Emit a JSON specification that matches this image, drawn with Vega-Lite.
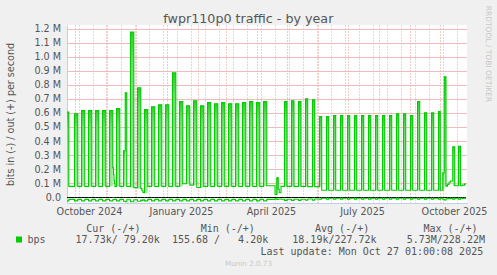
{
  "$schema": "https://vega.github.io/schema/vega-lite/v6.json",
  "width": 400,
  "height": 178,
  "autosize": {"type": "none"},
  "padding": {"left": 67, "top": 25, "right": 30, "bottom": 72},
  "background": "#f0f0f0",
  "title": {"text": "fwpr110p0 traffic - by year", "anchor": "middle", "frame": "bounds", "font": "DejaVu Sans", "fontSize": 12.7, "fontWeight": "normal", "color": "#555555", "baseline": "alphabetic", "offset": -30.6},
  "config": {
    "view": {"fill": "#ffffff", "stroke": null},
    "axis": {"labelFont": "DejaVu Sans", "labelFontSize": 9.6, "labelColor": "#555555", "titleFont": "DejaVu Sans", "titleFontWeight": "normal", "titleColor": "#555555", "ticks": false, "domain": false, "labels": false, "grid": false}
  },
  "datasets": {
    "gridlines": [{"v":100000},{"v":200000},{"v":300000},{"v":400000},{"v":500000},{"v":600000},{"v":700000},{"v":800000},{"v":900000},{"v":1000000},{"v":1100000},{"v":1200000}],
    "traffic": [
    {"t":"2024-09-23T00:00","o":607000,"n":-28000,"e":"2024-09-24T20:00","b":76000},{"t":"2024-09-24T20:00","o":76000,"n":-17000},
    {"t":"2024-09-30T12:00","o":595000,"n":-28000,"e":"2024-10-03T19:00","b":76000},{"t":"2024-10-03T19:00","o":76000,"n":-17000},
    {"t":"2024-10-07T12:00","o":617000,"n":-28000,"e":"2024-10-10T19:00","b":76000},{"t":"2024-10-10T19:00","o":76000,"n":-17000},
    {"t":"2024-10-14T12:00","o":617000,"n":-28000,"e":"2024-10-17T19:00","b":76000},{"t":"2024-10-17T19:00","o":76000,"n":-17000},
    {"t":"2024-10-21T12:00","o":617000,"n":-28000,"e":"2024-10-24T19:00","b":76000},{"t":"2024-10-24T19:00","o":76000,"n":-17000},
    {"t":"2024-10-28T12:00","o":617000,"n":-28000,"e":"2024-10-31T19:00","b":76000},{"t":"2024-10-31T19:00","o":76000,"n":-17000},
    {"t":"2024-11-04T12:00","o":617000,"n":-28000,"e":"2024-11-07T19:00","b":76000},
    {"t":"2024-11-07T19:00","o":210000,"n":-20000},{"t":"2024-11-08T12:00","o":160000,"n":-18000},{"t":"2024-11-09T00:00","o":120000,"n":-17000},{"t":"2024-11-09T12:00","o":95000,"n":-17000},{"t":"2024-11-10T00:00","o":76000,"n":-17000},
    {"t":"2024-11-11T12:00","o":631000,"n":-28000,"e":"2024-11-14T19:00","b":76000},{"t":"2024-11-14T19:00","o":76000,"n":-17000},
    {"t":"2024-11-18T12:00","o":330000,"n":-30000,"e":"2024-11-20T06:00","b":76000},
    {"t":"2024-11-20T06:00","o":745000,"n":-34000,"e":"2024-11-21T19:00","b":76000},{"t":"2024-11-21T19:00","o":76000,"n":-20000},
    {"t":"2024-11-25T12:00","o":1178000,"n":-34000,"e":"2024-11-28T19:00","b":67000},{"t":"2024-11-28T19:00","o":67000,"n":-20000},
    {"t":"2024-12-02T12:00","o":780000,"n":-30000,"e":"2024-12-05T19:00","b":60000},
    {"t":"2024-12-05T19:00","o":60000,"n":-22000},{"t":"2024-12-07T00:00","o":45000,"n":-25000},{"t":"2024-12-08T00:00","o":30000,"n":-20000},
    {"t":"2024-12-09T12:00","o":624000,"n":-28000,"e":"2024-12-12T19:00","b":30000},{"t":"2024-12-12T19:00","o":76000,"n":-17000},
    {"t":"2024-12-16T12:00","o":645000,"n":-28000,"e":"2024-12-19T19:00","b":76000},{"t":"2024-12-19T19:00","o":76000,"n":-17000},
    {"t":"2024-12-23T12:00","o":659000,"n":-28000,"e":"2024-12-26T19:00","b":76000},{"t":"2024-12-26T19:00","o":76000,"n":-17000},
    {"t":"2024-12-30T12:00","o":659000,"n":-28000,"e":"2025-01-02T19:00","b":76000},{"t":"2025-01-02T19:00","o":76000,"n":-17000},
    {"t":"2025-01-06T12:00","o":887000,"n":-28000,"e":"2025-01-09T19:00","b":76000},{"t":"2025-01-09T19:00","o":76000,"n":-17000},
    {"t":"2025-01-13T12:00","o":681000,"n":-28000,"e":"2025-01-16T19:00","b":76000},{"t":"2025-01-16T19:00","o":95000,"n":-17000},
    {"t":"2025-01-20T12:00","o":652000,"n":-28000,"e":"2025-01-23T19:00","b":95000},{"t":"2025-01-23T19:00","o":85000,"n":-17000},
    {"t":"2025-01-27T12:00","o":688000,"n":-28000,"e":"2025-01-30T19:00","b":85000},{"t":"2025-01-30T19:00","o":68000,"n":-17000},
    {"t":"2025-02-03T12:00","o":652000,"n":-28000,"e":"2025-02-06T19:00","b":68000},{"t":"2025-02-06T19:00","o":76000,"n":-17000},
    {"t":"2025-02-10T12:00","o":674000,"n":-28000,"e":"2025-02-13T19:00","b":76000},{"t":"2025-02-13T19:00","o":76000,"n":-17000},
    {"t":"2025-02-17T12:00","o":666000,"n":-28000,"e":"2025-02-20T19:00","b":76000},{"t":"2025-02-20T19:00","o":76000,"n":-17000},
    {"t":"2025-02-24T12:00","o":674000,"n":-28000,"e":"2025-02-27T19:00","b":76000},{"t":"2025-02-27T19:00","o":76000,"n":-17000},
    {"t":"2025-03-03T12:00","o":666000,"n":-28000,"e":"2025-03-06T19:00","b":76000},{"t":"2025-03-06T19:00","o":76000,"n":-17000},
    {"t":"2025-03-10T12:00","o":666000,"n":-28000,"e":"2025-03-13T19:00","b":76000},{"t":"2025-03-13T19:00","o":76000,"n":-17000},
    {"t":"2025-03-17T12:00","o":674000,"n":-28000,"e":"2025-03-20T19:00","b":76000},{"t":"2025-03-20T19:00","o":76000,"n":-17000},
    {"t":"2025-03-24T12:00","o":681000,"n":-28000,"e":"2025-03-27T19:00","b":76000},{"t":"2025-03-27T19:00","o":76000,"n":-17000},
    {"t":"2025-03-31T12:00","o":674000,"n":-28000,"e":"2025-04-03T19:00","b":76000},{"t":"2025-04-03T19:00","o":76000,"n":-17000},
    {"t":"2025-04-07T12:00","o":681000,"n":-28000,"e":"2025-04-10T19:00","b":76000},{"t":"2025-04-10T19:00","o":80000,"n":-17000},
    {"t":"2025-04-19T00:00","o":18000,"n":-12000},
    {"t":"2025-04-20T18:00","o":138000,"n":-18000,"e":"2025-04-22T06:00","b":18000},
    {"t":"2025-04-22T06:00","o":55000,"n":-14000},{"t":"2025-04-23T06:00","o":30000,"n":-14000},{"t":"2025-04-25T00:00","o":76000,"n":-16000},
    {"t":"2025-04-28T12:00","o":681000,"n":-24000,"e":"2025-05-01T00:00","b":76000},{"t":"2025-05-01T00:00","o":76000,"n":-16000},
    {"t":"2025-05-05T12:00","o":688000,"n":-24000,"e":"2025-05-08T00:00","b":76000},{"t":"2025-05-08T00:00","o":76000,"n":-16000},
    {"t":"2025-05-12T12:00","o":681000,"n":-24000,"e":"2025-05-15T00:00","b":76000},{"t":"2025-05-15T00:00","o":76000,"n":-16000},
    {"t":"2025-05-19T12:00","o":702000,"n":-22000,"e":"2025-05-21T17:00","b":76000},{"t":"2025-05-21T17:00","o":74000,"n":-14000},
    {"t":"2025-05-26T12:00","o":695000,"n":-22000,"e":"2025-05-28T17:00","b":74000},{"t":"2025-05-28T17:00","o":74000,"n":-14000},
    {"t":"2025-06-02T12:00","o":574000,"n":-15000,"e":"2025-06-04T17:00","b":74000},{"t":"2025-06-04T17:00","o":48000,"n":-9000},
    {"t":"2025-06-09T12:00","o":574000,"n":-15000,"e":"2025-06-11T17:00","b":48000},{"t":"2025-06-11T17:00","o":48000,"n":-9000},
    {"t":"2025-06-16T12:00","o":581000,"n":-15000,"e":"2025-06-18T17:00","b":48000},{"t":"2025-06-18T17:00","o":48000,"n":-9000},
    {"t":"2025-06-23T12:00","o":581000,"n":-15000,"e":"2025-06-25T17:00","b":48000},{"t":"2025-06-25T17:00","o":48000,"n":-9000},
    {"t":"2025-06-30T12:00","o":581000,"n":-15000,"e":"2025-07-02T17:00","b":48000},{"t":"2025-07-02T17:00","o":48000,"n":-9000},
    {"t":"2025-07-07T12:00","o":581000,"n":-15000,"e":"2025-07-09T17:00","b":48000},{"t":"2025-07-09T17:00","o":48000,"n":-9000},
    {"t":"2025-07-14T12:00","o":581000,"n":-15000,"e":"2025-07-16T17:00","b":48000},{"t":"2025-07-16T17:00","o":48000,"n":-9000},
    {"t":"2025-07-21T12:00","o":581000,"n":-15000,"e":"2025-07-23T17:00","b":48000},{"t":"2025-07-23T17:00","o":48000,"n":-9000},
    {"t":"2025-07-28T12:00","o":581000,"n":-15000,"e":"2025-07-30T17:00","b":48000},{"t":"2025-07-30T17:00","o":48000,"n":-9000},
    {"t":"2025-08-04T12:00","o":581000,"n":-15000,"e":"2025-08-06T17:00","b":48000},{"t":"2025-08-06T17:00","o":48000,"n":-9000},
    {"t":"2025-08-11T12:00","o":581000,"n":-15000,"e":"2025-08-13T17:00","b":48000},{"t":"2025-08-13T17:00","o":48000,"n":-9000},
    {"t":"2025-08-18T12:00","o":595000,"n":-15000,"e":"2025-08-20T17:00","b":48000},{"t":"2025-08-20T17:00","o":48000,"n":-9000},
    {"t":"2025-08-25T12:00","o":595000,"n":-15000,"e":"2025-08-27T17:00","b":48000},{"t":"2025-08-27T17:00","o":48000,"n":-9000},
    {"t":"2025-09-01T12:00","o":581000,"n":-15000,"e":"2025-09-03T17:00","b":48000},{"t":"2025-09-03T17:00","o":48000,"n":-9000},
    {"t":"2025-09-08T12:00","o":681000,"n":-15000,"e":"2025-09-10T17:00","b":48000},{"t":"2025-09-10T17:00","o":48000,"n":-9000},
    {"t":"2025-09-15T12:00","o":602000,"n":-15000,"e":"2025-09-17T17:00","b":48000},{"t":"2025-09-17T17:00","o":48000,"n":-9000},
    {"t":"2025-09-22T12:00","o":602000,"n":-15000,"e":"2025-09-24T17:00","b":48000},{"t":"2025-09-24T17:00","o":48000,"n":-9000},
    {"t":"2025-09-29T12:00","o":610000,"n":-15000,"e":"2025-10-01T06:00","b":48000},{"t":"2025-10-01T06:00","o":48000,"n":-9000},
    {"t":"2025-10-03T18:00","o":173000,"n":-16000,"e":"2025-10-05T06:00","b":48000},
    {"t":"2025-10-05T06:00","o":858000,"n":-21000,"e":"2025-10-07T00:00","b":78000},
    {"t":"2025-10-07T00:00","o":78000,"n":-12000},{"t":"2025-10-08T12:00","o":90000,"n":-10000},{"t":"2025-10-10T00:00","o":105000,"n":-12000},{"t":"2025-10-11T12:00","o":114000,"n":-10000},
    {"t":"2025-10-13T18:00","o":358000,"n":-15000,"e":"2025-10-15T18:00","b":78000},{"t":"2025-10-15T18:00","o":80000,"n":-9000},
    {"t":"2025-10-19T12:00","o":363000,"n":-15000,"e":"2025-10-21T12:00","b":80000},{"t":"2025-10-21T12:00","o":80000,"n":-9000},
    {"t":"2025-10-23T12:00","o":85000,"n":-10000},{"t":"2025-10-25T12:00","o":92000,"n":-9000},{"t":"2025-10-27T01:00","o":92000,"n":-9000}
    ]
  },
  "data": {"name": "traffic"},
  "resolve": {"axis": {"x": "independent", "y": "independent"}},
  "layer": [
    {
      "data": {"name": "gridlines"},
      "mark": {"type": "rule", "color": "#efbcbc", "strokeWidth": 1, "yOffset": 0.5},
      "encoding": {
        "y": {"field": "v", "type": "quantitative", "scale": {"domain": [-42857, 1228571], "nice": false, "zero": false}, "axis": null}
      }
    },
    {
      "transform": [{"filter": "isValid(datum.e)"}],
      "mark": {"type": "rect", "fill": {"x1": 0, "y1": 0, "x2": 0, "y2": 1, "gradient": "linear", "stops": [{"offset": 0, "color": "#2ccc2c"}, {"offset": 0.2, "color": "#6fdc6f"}, {"offset": 1, "color": "#9ee89e"}]}, "stroke": null},
      "encoding": {
        "x": {"field": "t", "type": "temporal", "scale": {"domain": [{"year": 2024, "month": 9, "date": 23}, {"year": 2025, "month": 10, "date": 28}], "nice": false},
          "axis": {"orient": "bottom", "grid": true, "gridColor": "#e49494", "gridDash": [1, 2], "labels": false, "title": null,
            "values": [{"year": 2024, "month": 10, "date": 1}, {"year": 2024, "month": 11, "date": 1}, {"year": 2024, "month": 12, "date": 1}, {"year": 2025, "month": 1, "date": 1}, {"year": 2025, "month": 2, "date": 1}, {"year": 2025, "month": 3, "date": 1}, {"year": 2025, "month": 4, "date": 1}, {"year": 2025, "month": 5, "date": 1}, {"year": 2025, "month": 6, "date": 1}, {"year": 2025, "month": 7, "date": 1}, {"year": 2025, "month": 8, "date": 1}, {"year": 2025, "month": 9, "date": 1}, {"year": 2025, "month": 10, "date": 1}]}},
        "x2": {"field": "e"},
        "y": {"field": "o", "type": "quantitative", "scale": {"domain": [-42857, 1228571], "nice": false, "zero": false},
          "axis": {"orient": "left", "values": [0, 100000, 200000, 300000, 400000, 500000, 600000, 700000, 800000, 900000, 1000000, 1100000, 1200000],
            "labels": true, "labelExpr": "datum.value == 0 ? '0.0' : format(datum.value / 1000000, '.1f') + ' M'", "labelPadding": 6.5,
            "domain": true, "domainColor": "#c6ccef",
            "title": "bits in (-) / out (+) per second", "titleFontSize": 9.6, "titleX": -57, "titleY": 89, "titleAngle": 270, "titleAlign": "center", "titleBaseline": "middle"}},
        "y2": {"field": "b"}
      }
    },
    {
      "mark": {"type": "line", "color": "#000000", "strokeWidth": 1, "yOffset": 0.5},
      "encoding": {
        "x": {"field": "t", "type": "temporal", "scale": {"domain": [{"year": 2024, "month": 9, "date": 23}, {"year": 2025, "month": 10, "date": 28}], "nice": false},
          "axis": {"orient": "top", "title": "Munin 2.0.73", "titleFontSize": 7.2, "titleColor": "#c8c8c8", "titleX": 181, "titleY": 238.5, "titleAlign": "center", "titleBaseline": "middle", "titleAngle": 0}},
        "y": {"datum": 0, "axis": null}
      }
    },
    {
      "mark": {"type": "line", "interpolate": "step-after", "strokeWidth": 1.1},
      "encoding": {
        "x": {"field": "t", "type": "temporal", "scale": {"domain": [{"year": 2024, "month": 9, "date": 23}, {"year": 2025, "month": 10, "date": 28}], "nice": false},
          "axis": {"orient": "bottom", "grid": true, "gridColor": "#b8b8b8", "gridDash": [1, 2], "labels": false, "title": null,
            "values": [{"year": 2024, "month": 10, "date": 5}, {"year": 2024, "month": 10, "date": 19}, {"year": 2024, "month": 11, "date": 2}, {"year": 2024, "month": 11, "date": 16}, {"year": 2024, "month": 11, "date": 30}, {"year": 2024, "month": 12, "date": 14}, {"year": 2024, "month": 12, "date": 28}, {"year": 2025, "month": 1, "date": 11}, {"year": 2025, "month": 1, "date": 25}, {"year": 2025, "month": 2, "date": 8}, {"year": 2025, "month": 2, "date": 22}, {"year": 2025, "month": 3, "date": 8}, {"year": 2025, "month": 3, "date": 22}, {"year": 2025, "month": 4, "date": 5}, {"year": 2025, "month": 4, "date": 19}, {"year": 2025, "month": 5, "date": 3}, {"year": 2025, "month": 5, "date": 17}, {"year": 2025, "month": 5, "date": 31}, {"year": 2025, "month": 6, "date": 14}, {"year": 2025, "month": 6, "date": 28}, {"year": 2025, "month": 7, "date": 12}, {"year": 2025, "month": 7, "date": 26}, {"year": 2025, "month": 8, "date": 9}, {"year": 2025, "month": 8, "date": 23}, {"year": 2025, "month": 9, "date": 6}, {"year": 2025, "month": 9, "date": 20}, {"year": 2025, "month": 10, "date": 4}, {"year": 2025, "month": 10, "date": 18}]}},
        "y": {"field": "o", "type": "quantitative", "scale": {"domain": [-42857, 1228571], "nice": false, "zero": false},
          "axis": {"orient": "right", "title": "RRDTOOL / TOBI OETIKER", "titleFontSize": 7.5, "titleColor": "#c8c8c8", "titleX": 20.7, "titleY": 28.5, "titleAngle": 90, "titleAlign": "center", "titleBaseline": "middle"}},
        "color": {"datum": "bps", "scale": {"range": ["#00cc00"]},
          "legend": {"orient": "none", "legendX": -53, "legendY": 198.5, "direction": "vertical", "padding": 0,
            "title": "\u200b\u00a0\u00a0\u00a0\u00a0\u00a0\u00a0\u00a0\u00a0\u00a0\u00a0\u00a0\u00a0Cur\u00a0(-/+)\u00a0\u00a0\u00a0\u00a0\u00a0\u00a0\u00a0\u00a0\u00a0\u00a0Min\u00a0(-/+)\u00a0\u00a0\u00a0\u00a0\u00a0\u00a0\u00a0\u00a0\u00a0\u00a0Avg\u00a0(-/+)\u00a0\u00a0\u00a0\u00a0\u00a0\u00a0\u00a0\u00a0\u00a0Max\u00a0(-/+)",
            "titleFont": "DejaVu Sans Mono", "titleFontSize": 10, "titleFontWeight": "normal", "titleColor": "#555555", "titlePadding": 1, "titleLimit": 1000, "titleAnchor": "start",
            "symbolType": "square", "symbolSize": 36, "symbolFillColor": "#00cc00", "symbolStrokeWidth": 0, "symbolOpacity": 1,
            "labelExpr": "'bps\u00a0\u00a0\u00a0\u00a0\u00a017.73k/\u00a079.20k\u00a0\u00a0155.68\u00a0/\u00a0\u00a0\u00a04.20k\u00a0\u00a0\u00a0\u00a018.19k/227.72k\u00a0\u00a0\u00a0\u00a0\u00a05.73M/228.22M'",
            "labelFont": "DejaVu Sans Mono", "labelFontSize": 10, "labelColor": "#555555", "labelLimit": 1000, "labelOffset": 3.4}}
      }
    },
    {
      "mark": {"type": "line", "interpolate": "step-after", "strokeWidth": 1.1, "color": "#00cc00"},
      "encoding": {
        "x": {"field": "t", "type": "temporal", "scale": {"domain": [{"year": 2024, "month": 9, "date": 23}, {"year": 2025, "month": 10, "date": 28}], "nice": false},
          "axis": {"orient": "bottom", "labels": true, "format": "%B %Y", "labelOverlap": false, "labelFlush": false, "labelPadding": 3.5,
            "values": [{"year": 2024, "month": 10, "date": 15}, {"year": 2025, "month": 1, "date": 15}, {"year": 2025, "month": 4, "date": 15}, {"year": 2025, "month": 7, "date": 15}, {"year": 2025, "month": 10, "date": 15}],
            "domain": true, "domainColor": "#c6ccef",
            "title": "Last update: Mon Oct 27 01:00:08 2025", "titleFont": "DejaVu Sans Mono", "titleFontSize": 10, "titleX": 415.7, "titleY": 43.5, "titleAlign": "right", "titleBaseline": "top", "titleAngle": 0}},
        "y": {"field": "n", "type": "quantitative", "axis": null}
      }
    }
  ]
}
